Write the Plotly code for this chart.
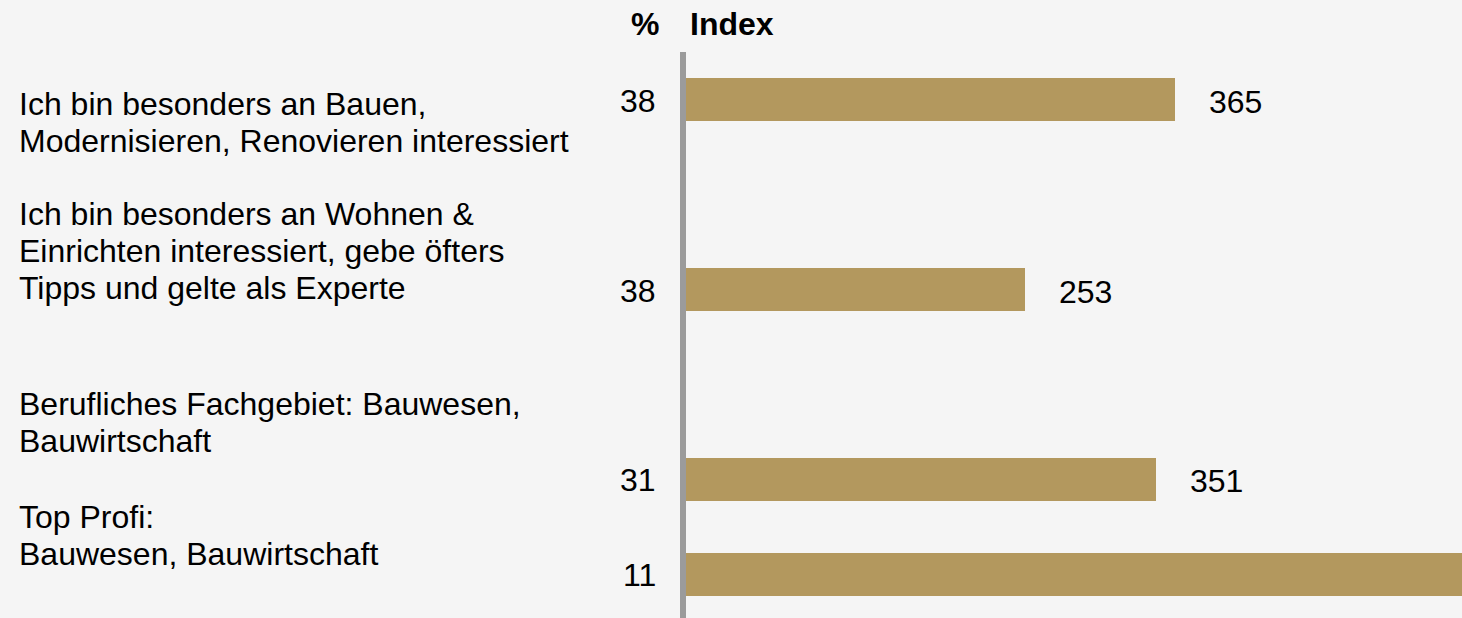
import plotly.graph_objects as go

# ---- data ----
categories = [
    ["Ich bin besonders an Bauen,", "Modernisieren, Renovieren interessiert"],
    ["Ich bin besonders an Wohnen &", "Einrichten interessiert, gebe öfters", "Tipps und gelte als Experte"],
    ["Berufliches Fachgebiet: Bauwesen,", "Bauwirtschaft"],
    ["Top Profi:", "Bauwesen, Bauwirtschaft"],
]
percent = [38, 38, 31, 11]
index_values = [365, 253, 351, 620]   # last bar runs off the chart; value not visible
header_pct = "%"
header_index = "Index"

# ---- layout helpers (positions, not data) ----
slots = [0, 2, 4, 5]                      # vertical slot of each bar
label_first_line_offset = [4, -76, -75, -57]  # px, relative to bar centre (down = +)
line_spacing = 37
FONT = "Liberation Sans, Arial, sans-serif"
FS = 32
BAR = "#B3985E"
BG = "#F5F5F5"

fig = go.Figure()
fig.add_trace(go.Bar(
    x=index_values, y=slots, orientation="h",
    marker=dict(color=BAR, line=dict(width=0)),
    width=0.45, hoverinfo="skip",
))

ann = []
x_max = 579
for i, s in enumerate(slots):
    # percent value
    ann.append(dict(x=0, y=s, xref="x", yref="y", text=str(percent[i]),
                    xanchor="right", yanchor="middle", xshift=-28, yshift=-1, showarrow=False,
                    font=dict(size=FS, color="black", family=FONT)))
    # index value
    if index_values[i] <= x_max:
        ann.append(dict(x=index_values[i], y=s, xref="x", yref="y", text=str(index_values[i]),
                        xanchor="left", yanchor="middle", xshift=32, yshift=-2, showarrow=False,
                        font=dict(size=FS, color="black", family=FONT)))
    # category labels, line by line
    for j, line in enumerate(categories[i]):
        ann.append(dict(x=-0.862, y=s, xref="paper", yref="y", text=line,
                        xanchor="left", yanchor="middle",
                        yshift=-(label_first_line_offset[i] + j * line_spacing),
                        showarrow=False, font=dict(size=FS, color="black", family=FONT)))

# headers
ann.append(dict(x=0, y=1, xref="x", yref="paper", text="<b>%s</b>" % header_pct,
                xanchor="right", yanchor="middle", xshift=-25, yshift=28, showarrow=False,
                font=dict(size=FS, color="black", family=FONT)))
ann.append(dict(x=0, y=1, xref="x", yref="paper", text="<b>%s</b>" % header_index,
                xanchor="left", yanchor="middle", xshift=2, yshift=28, showarrow=False,
                font=dict(size=FS, color="black", family=FONT)))

fig.update_layout(
    width=1462, height=618,
    margin=dict(l=686, r=0, t=52, b=0),
    paper_bgcolor=BG, plot_bgcolor=BG,
    showlegend=False,
    annotations=ann,
    xaxis=dict(range=[0, x_max], visible=False, fixedrange=True),
    yaxis=dict(range=[5.458, -0.5], showticklabels=False, ticks="",
               showgrid=False, zeroline=False,
               showline=True, linecolor="#9B9B9B", linewidth=6, fixedrange=True),
    bargap=0,
)
fig.write_html("out.html", config={"displayModeBar": False},
               post_script="document.body.style.margin='0';document.body.style.background='%s';" % BG)
